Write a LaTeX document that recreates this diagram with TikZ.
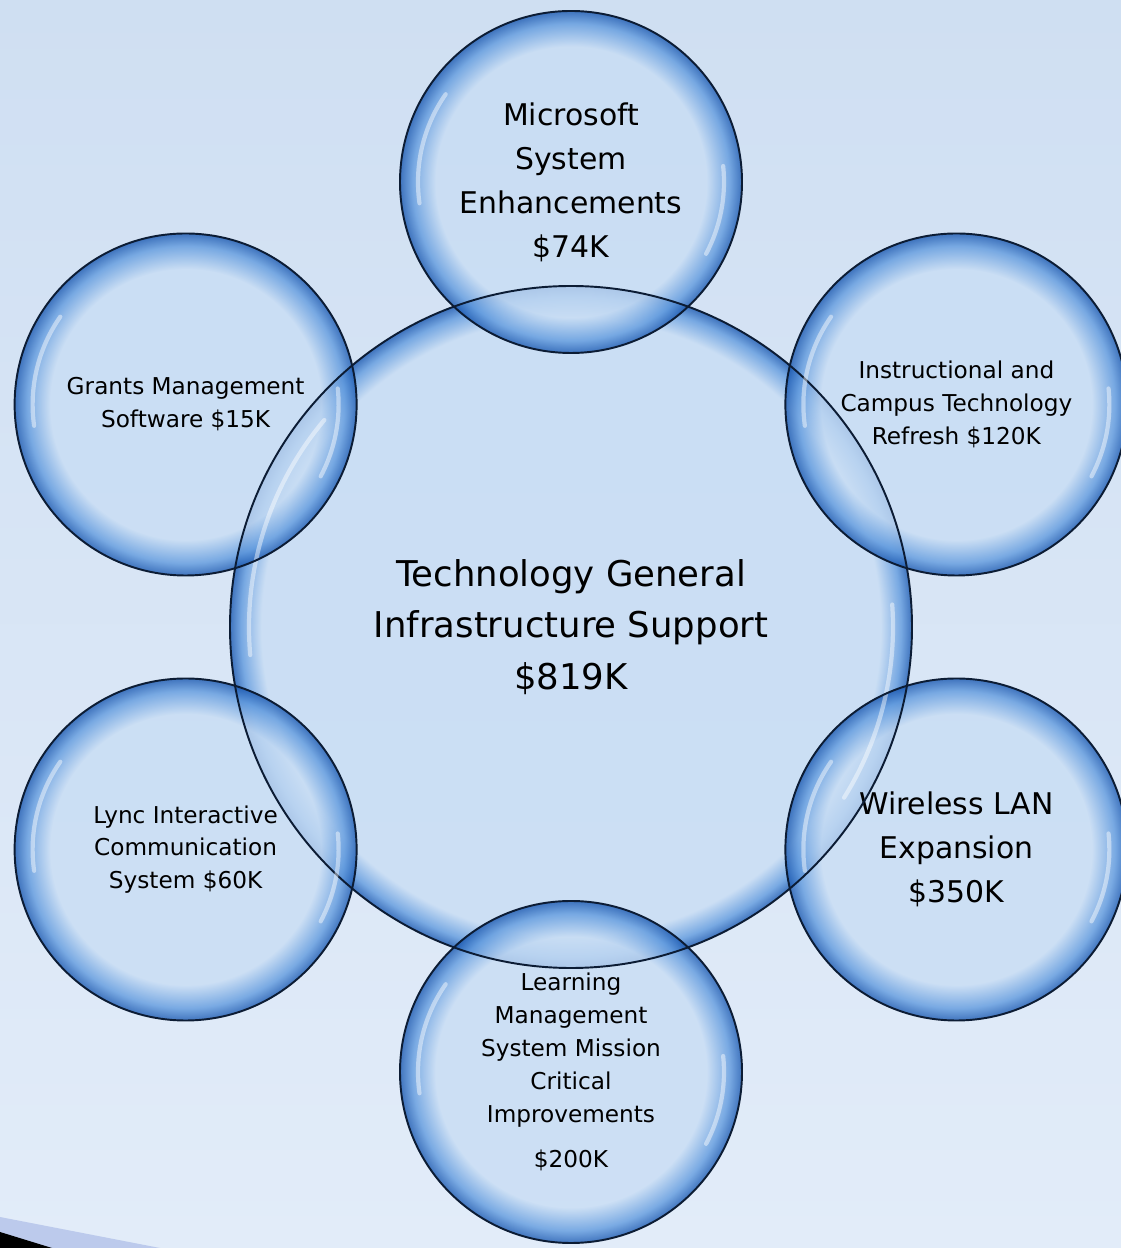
\documentclass[tikz,border=0pt]{standalone}
\usepackage{fontspec}
\setmainfont{DejaVu Sans}
\usetikzlibrary{calc}

\definecolor{bgtop}{RGB}{207,223,242}
\definecolor{bgbot}{RGB}{226,236,249}
\definecolor{bubcore}{RGB}{200,221,244}
\definecolor{bubmid}{RGB}{96,154,222}
\definecolor{bubrim}{RGB}{26,88,176}
\definecolor{rimline}{RGB}{12,28,52}
\definecolor{bandgrey}{RGB}{188,202,236}

\pgfdeclareradialshading{bubble}{\pgfpointorigin}{%
    color(0bp)=(bubcore); color(19.8bp)=(bubcore);
    color(23.2bp)=(bubmid); color(25bp)=(bubrim); color(50bp)=(bubrim)}
\pgfdeclareradialshading{bigbubble}{\pgfpointorigin}{%
    color(0bp)=(bubcore); color(22.7bp)=(bubcore);
    color(24.2bp)=(bubmid); color(25bp)=(bubrim); color(50bp)=(bubrim)}

\tikzset{
    bub/.style={circle, inner sep=0pt, outer sep=0pt, shade, shading=bubble,
                fill opacity=0.8, text opacity=1, align=center,
                minimum size=6.84cm, font=\fontsize{13.2}{18.7}\selectfont},
    hub/.style={bub, shading=bigbubble, minimum size=13.64cm,
                font=\fontsize{20.2}{29.5}\selectfont},
    midtext/.style={font=\fontsize{17}{25}\selectfont},
    rim/.style={draw=rimline, line width=1.1pt},
    glare/.style={draw=white, opacity=0.45, line width=2.4pt, line cap=round}
}

\begin{document}
\begin{tikzpicture}[x=0.02cm, y=0.02cm]
    \useasboundingbox (0,0) rectangle (1121,1248);
    \shade[top color=bgtop, bottom color=bgbot] (0,0) rectangle (1121,1248);
    \fill[bandgrey] (0,0) -- (0,31) -- (160,0) -- cycle;
    \fill[black] (0,0) -- (0,16) -- (52,0) -- cycle;

    \node[hub] (tgis) at (571,621) {Technology General\\Infrastructure Support\\\$819K};
    \node[bub, midtext] (mse) at ($(tgis)+(90:445)$) {Microsoft\\System\\Enhancements\\\$74K};
    \node[bub] (ictr) at ($(tgis)+(30:445)$) {Instructional and\\Campus Technology\\Refresh \$120K};
    \node[bub, midtext] (wlan) at ($(tgis)+(-30:445)$) {Wireless LAN\\Expansion\\\$350K};
    \node[bub] (lms) at ($(tgis)+(-90:445)$) {Learning\\Management\\System Mission\\Critical\\Improvements\\[7pt]\$200K};
    \node[bub] (lync) at ($(tgis)+(210:445)$) {Lync Interactive\\Communication\\System \$60K};
    \node[bub] (gms) at ($(tgis)+(150:445)$) {Grants Management\\Software \$15K};

    \draw[rim] (tgis) circle[radius=341];
    \draw[glare] (tgis) ++(140:322) arc[start angle=140, end angle=185, radius=322];
    \draw[glare] (tgis) ++(-32:322) arc[start angle=-32, end angle=4, radius=322];
    \foreach \n in {mse,ictr,wlan,lms,lync,gms} {
        \draw[rim] (\n) circle[radius=171];
        \draw[glare] (\n) ++(145:153) arc[start angle=145, end angle=188, radius=153];
        \draw[glare] (\n) ++(-28:153) arc[start angle=-28, end angle=6, radius=153];
    }
\end{tikzpicture}
\end{document}
